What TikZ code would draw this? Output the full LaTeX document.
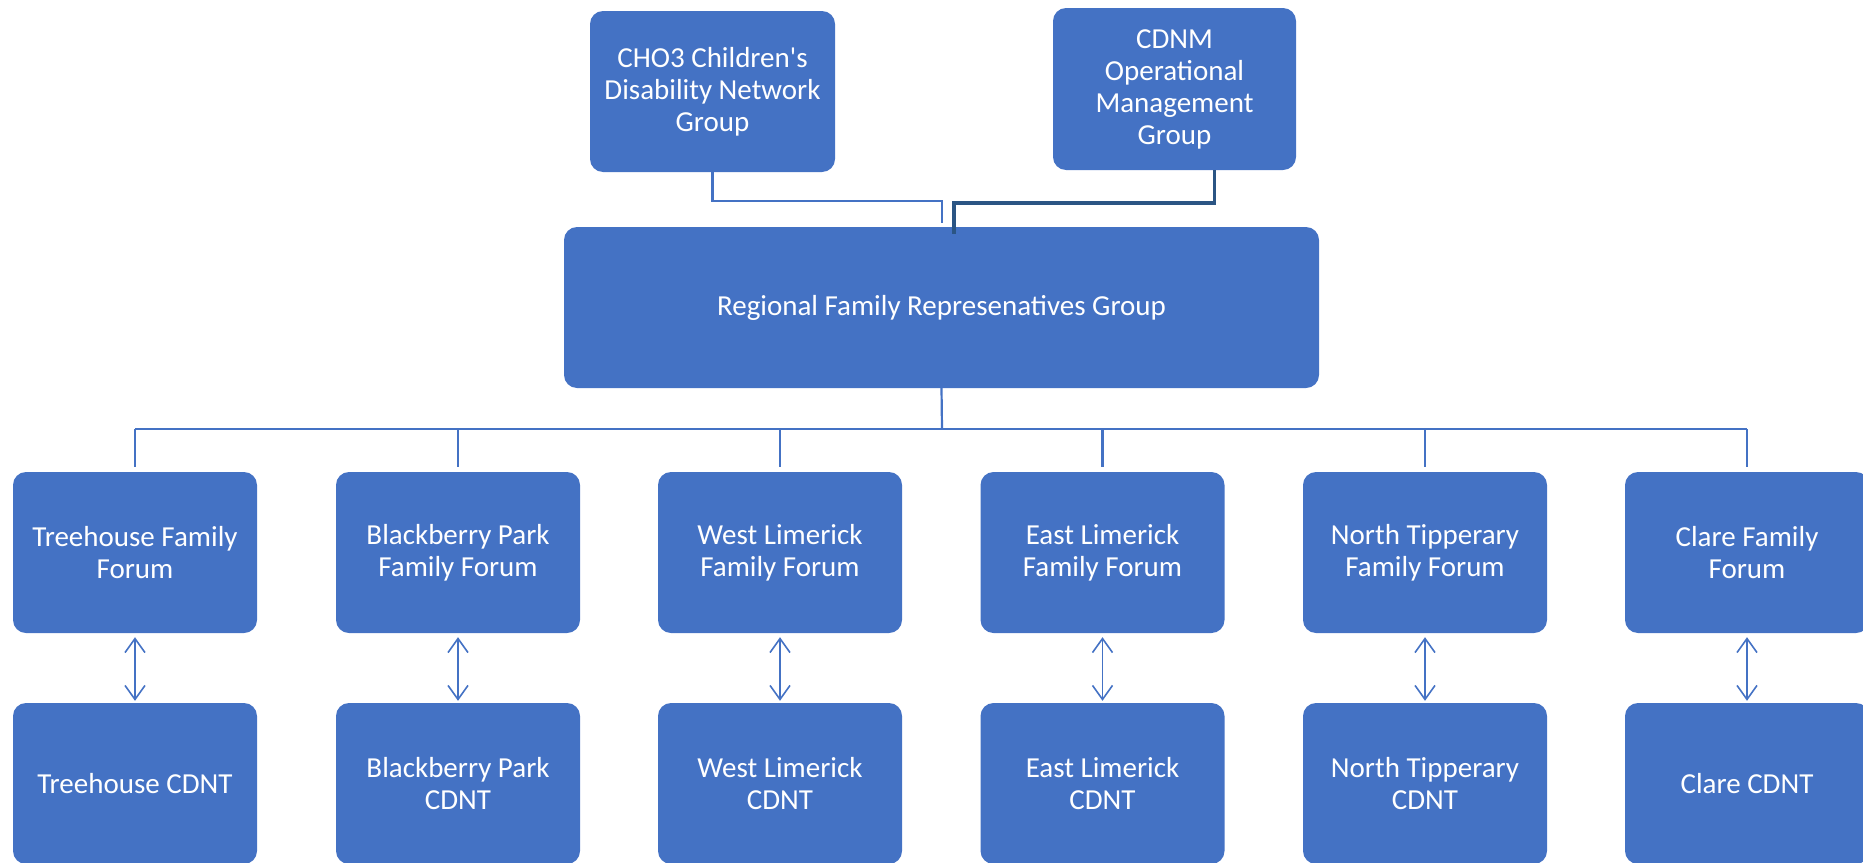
\documentclass[tikz,border=0pt]{standalone}
\usepackage{fontspec}
\newfontfamily\boxfont{Carlito}
\usetikzlibrary{arrows.meta}
\definecolor{boxblue}{HTML}{4472C4}
\definecolor{lineblue}{HTML}{4472C4}
\definecolor{darkline}{HTML}{2B5584}
\tikzset{
  orgbox/.style={rectangle, rounded corners=13pt, fill=boxblue, text=white, align=center,
    minimum width=244pt, minimum height=161pt, inner sep=0pt,
    font=\boxfont\fontsize{29}{32}\selectfont},
  conn/.style={draw=lineblue, line width=2.2pt},
  darkconn/.style={draw=darkline, line width=3.6pt},
  biarrow/.style={draw=lineblue, line width=1.6pt,
    {Straight Barb[length=14pt,width=20pt,line width=1.6pt]}-{Straight Barb[length=14pt,width=20pt,line width=1.6pt]}}
}
\begin{document}
\begin{tikzpicture}[x=1pt,y=-1pt]
\useasboundingbox (0,0) rectangle (1863,862);
\clip (0,0) rectangle (1863,862);
% top boxes
\node[orgbox, minimum width=245pt] (cho) at (712.5,91.5) {CHO3 Children's\\Disability Network\\Group};
\node[orgbox, minimum width=243pt, minimum height=162pt] (cdnm) at (1174.5,89) {CDNM\\Operational\\Management\\Group};
\node[orgbox, minimum width=755pt] (main) at (941.5,307.5) {Regional Family Represenatives Group};
% forums
\node[orgbox] (f1) at (135,552.5) {Treehouse Family\\Forum};
\node[orgbox] (f2) at (458,552.5) {Blackberry Park\\Family Forum};
\node[orgbox] (f3) at (780,552.5) {West Limerick\\Family Forum};
\node[orgbox] (f4) at (1102.5,552.5) {East Limerick\\Family Forum};
\node[orgbox] (f5) at (1425,552.5) {North Tipperary\\Family Forum};
\node[orgbox] (f6) at (1747,552.5) {Clare Family\\Forum};
% CDNTs
\node[orgbox] (c1) at (135,783.5) {Treehouse CDNT};
\node[orgbox] (c2) at (458,783.5) {Blackberry Park\\CDNT};
\node[orgbox] (c3) at (780,783.5) {West Limerick\\CDNT};
\node[orgbox] (c4) at (1102.5,783.5) {East Limerick\\CDNT};
\node[orgbox] (c5) at (1425,783.5) {North Tipperary\\CDNT};
\node[orgbox] (c6) at (1747,783.5) {Clare CDNT};
% top connectors
\draw[conn] (cho.south) -- ++(0,29) -| ([xshift=0.5pt,yshift=4pt]main.north);
\draw[darkconn] ([xshift=40pt]cdnm.south) -- ++(0,33) -| ([xshift=12.5pt,yshift=-7pt]main.north);
% bus
\coordinate (bus) at (942,429);
\draw[conn] (main.south) -- (bus);
\draw[conn] (f1.north |- bus) -- (f6.north |- bus);
\foreach \i in {1,...,6}{
  \draw[conn] (f\i.north |- bus) -- ([yshift=5pt]f\i.north);
  \draw[biarrow] ([yshift=-4pt]f\i.south) -- ([yshift=2pt]c\i.north);
}
\end{tikzpicture}
\end{document}
